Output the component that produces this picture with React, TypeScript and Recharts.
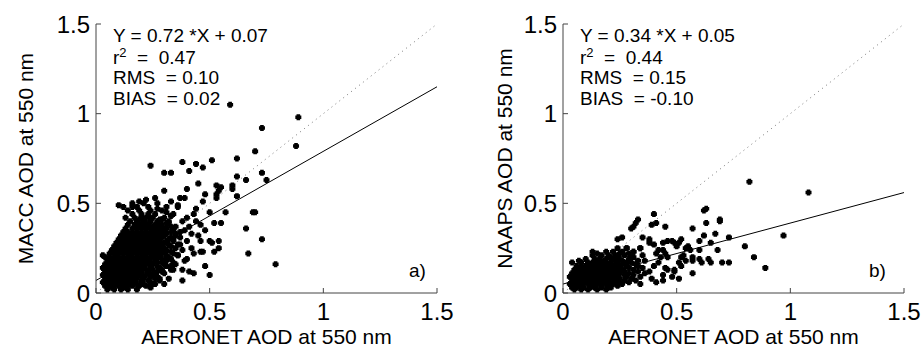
import React from "react";
import { ScatterChart, Scatter, XAxis, YAxis, ReferenceLine, Label } from "recharts";

const TICKS = [0, 0.5, 1, 1.5];
const X_TITLE = "AERONET AOD at 550 nm";

const MACC_FIT = { slope: 0.72, intercept: 0.07 };
const NAAPS_FIT = { slope: 0.34, intercept: 0.05 };

const MACC_STATS = { eq: "Y = 0.72 *X + 0.07", r2: "0.47", rms: "0.10", bias: "0.02" };
const NAAPS_STATS = { eq: "Y = 0.34 *X + 0.05", r2: "0.44", rms: "0.15", bias: "-0.10" };

// MACC vs AERONET (panel a) - dense core first, then the scattered points
const maccCore: [number, number][] = [
  [0.05,0.02],[0.08,0.02],[0.11,0.02],[0.14,0.02],[0.18,0.02],
  [0.04,0.04],[0.06,0.04],[0.08,0.04],[0.10,0.04],[0.12,0.04],[0.14,0.04],[0.16,0.04],[0.19,0.04],[0.22,0.04],
  [0.03,0.06],[0.05,0.06],[0.07,0.06],[0.09,0.06],[0.11,0.06],[0.13,0.06],[0.15,0.06],[0.17,0.06],[0.20,0.06],[0.24,0.06],
  [0.04,0.08],[0.06,0.08],[0.08,0.08],[0.10,0.08],[0.12,0.08],[0.14,0.08],[0.16,0.08],[0.18,0.08],[0.21,0.08],[0.26,0.08],
  [0.03,0.10],[0.05,0.10],[0.07,0.10],[0.09,0.10],[0.11,0.10],[0.13,0.10],[0.15,0.10],[0.17,0.10],[0.19,0.10],[0.22,0.10],[0.25,0.10],
  [0.04,0.12],[0.06,0.12],[0.08,0.12],[0.10,0.12],[0.12,0.12],[0.14,0.12],[0.16,0.12],[0.18,0.12],[0.20,0.12],[0.23,0.12],[0.27,0.12],
  [0.03,0.14],[0.05,0.14],[0.07,0.14],[0.09,0.14],[0.11,0.14],[0.13,0.14],[0.15,0.14],[0.17,0.14],[0.19,0.14],[0.21,0.14],[0.24,0.14],[0.28,0.14],
  [0.04,0.16],[0.06,0.16],[0.08,0.16],[0.10,0.16],[0.12,0.16],[0.14,0.16],[0.16,0.16],[0.18,0.16],[0.20,0.16],[0.22,0.16],[0.25,0.16],[0.30,0.16],
  [0.05,0.18],[0.07,0.18],[0.09,0.18],[0.11,0.18],[0.13,0.18],[0.15,0.18],[0.17,0.18],[0.19,0.18],[0.21,0.18],[0.23,0.18],[0.26,0.18],[0.31,0.18],
  [0.04,0.20],[0.06,0.20],[0.08,0.20],[0.10,0.20],[0.12,0.20],[0.14,0.20],[0.16,0.20],[0.18,0.20],[0.20,0.20],[0.22,0.20],[0.24,0.20],[0.27,0.20],[0.32,0.20],
  [0.06,0.22],[0.08,0.22],[0.10,0.22],[0.12,0.22],[0.14,0.22],[0.16,0.22],[0.18,0.22],[0.20,0.22],[0.22,0.22],[0.24,0.22],[0.26,0.22],[0.29,0.22],[0.34,0.22],
  [0.07,0.24],[0.09,0.24],[0.11,0.24],[0.13,0.24],[0.15,0.24],[0.17,0.24],[0.19,0.24],[0.21,0.24],[0.23,0.24],[0.25,0.24],[0.28,0.24],[0.31,0.24],
  [0.08,0.26],[0.10,0.26],[0.12,0.26],[0.14,0.26],[0.16,0.26],[0.18,0.26],[0.20,0.26],[0.22,0.26],[0.24,0.26],[0.26,0.26],[0.29,0.26],[0.33,0.26],
  [0.09,0.28],[0.11,0.28],[0.13,0.28],[0.15,0.28],[0.17,0.28],[0.19,0.28],[0.21,0.28],[0.23,0.28],[0.25,0.28],[0.27,0.28],[0.30,0.28],
  [0.10,0.30],[0.12,0.30],[0.14,0.30],[0.16,0.30],[0.18,0.30],[0.20,0.30],[0.22,0.30],[0.24,0.30],[0.26,0.30],[0.28,0.30],[0.32,0.30],
  [0.11,0.32],[0.13,0.32],[0.15,0.32],[0.17,0.32],[0.19,0.32],[0.21,0.32],[0.23,0.32],[0.25,0.32],[0.27,0.32],[0.30,0.32],[0.35,0.32],
  [0.12,0.34],[0.14,0.34],[0.16,0.34],[0.18,0.34],[0.20,0.34],[0.22,0.34],[0.24,0.34],[0.26,0.34],[0.29,0.34],[0.33,0.34],
  [0.13,0.36],[0.16,0.36],[0.18,0.36],[0.20,0.36],[0.22,0.36],[0.24,0.36],[0.27,0.36],[0.31,0.36],
  [0.14,0.38],[0.17,0.38],[0.19,0.38],[0.21,0.38],[0.23,0.38],[0.26,0.38],[0.29,0.38],
  [0.15,0.40],[0.18,0.40],[0.21,0.40],[0.24,0.40],[0.27,0.40],[0.32,0.40],
  [0.13,0.42],[0.17,0.42],[0.22,0.42],[0.25,0.42],[0.30,0.42],
  [0.16,0.44],[0.20,0.44],[0.26,0.44],[0.34,0.44],
  [0.14,0.46],[0.19,0.46],[0.24,0.46],[0.29,0.46],
  [0.12,0.48],[0.18,0.48],[0.23,0.48],[0.31,0.48],
  [0.16,0.50],[0.21,0.50],[0.27,0.50],
  // extra fill of the densest part
  [0.07,0.03],[0.13,0.03],[0.09,0.07],[0.15,0.07],[0.06,0.09],[0.12,0.09],[0.18,0.09],[0.08,0.11],
  [0.14,0.11],[0.20,0.11],[0.05,0.13],[0.11,0.13],[0.17,0.13],[0.09,0.15],[0.15,0.15],[0.21,0.15],
  [0.07,0.17],[0.13,0.17],[0.19,0.17],[0.11,0.19],[0.17,0.19],[0.23,0.19],[0.09,0.21],[0.15,0.21],
  [0.21,0.21],[0.13,0.23],[0.19,0.23],[0.25,0.23],[0.11,0.25],[0.17,0.25],[0.23,0.25],[0.15,0.27],
  [0.21,0.27],[0.27,0.27],[0.19,0.29],[0.25,0.29],[0.17,0.31],[0.23,0.31],[0.21,0.33],[0.28,0.33],
  // right flank of the cloud
  [0.18,0.05],[0.21,0.05],[0.25,0.05],[0.20,0.07],[0.23,0.07],[0.28,0.07],[0.21,0.09],[0.24,0.09],
  [0.27,0.09],[0.23,0.11],[0.26,0.11],[0.30,0.11],[0.22,0.13],[0.25,0.13],[0.29,0.13],[0.33,0.13],
  [0.24,0.15],[0.27,0.15],[0.31,0.15],[0.24,0.17],[0.27,0.17],[0.29,0.17],[0.34,0.17],[0.26,0.19],
  [0.29,0.19],[0.33,0.19],[0.25,0.21],[0.28,0.21],[0.31,0.21],[0.36,0.21],[0.27,0.23],[0.30,0.23],
  [0.33,0.23],[0.27,0.25],[0.30,0.25],[0.35,0.25],[0.29,0.27],[0.32,0.27],[0.36,0.27],[0.28,0.29],
  [0.31,0.29],[0.34,0.29],[0.29,0.31],[0.33,0.31],[0.37,0.31],[0.25,0.33],[0.31,0.33],[0.35,0.33],
  [0.26,0.35],[0.29,0.35],[0.34,0.35],[0.25,0.37],[0.28,0.37],[0.33,0.37],[0.22,0.39],[0.27,0.39],
  [0.31,0.39],[0.19,0.41],[0.24,0.41],[0.28,0.41],
];

const maccSpread: [number, number][] = [
  [0.03,0.21],[0.10,0.49],[0.16,0.48],[0.19,0.51],[0.22,0.52],[0.26,0.53],[0.24,0.71],[0.30,0.67],
  [0.33,0.67],[0.38,0.73],[0.41,0.68],[0.44,0.72],[0.47,0.70],[0.51,0.74],[0.59,1.05],[0.89,0.98],
  [0.88,0.82],[0.73,0.92],[0.70,0.79],[0.62,0.75],[0.73,0.67],[0.75,0.63],[0.62,0.65],[0.66,0.63],
  [0.53,0.60],[0.55,0.59],[0.54,0.57],[0.53,0.55],[0.53,0.53],[0.60,0.60],[0.60,0.58],[0.62,0.54],
  [0.48,0.55],[0.47,0.51],[0.45,0.61],[0.40,0.58],[0.30,0.57],[0.33,0.51],[0.37,0.53],[0.39,0.53],
  [0.36,0.49],[0.36,0.48],[0.69,0.45],[0.70,0.45],[0.57,0.45],[0.52,0.39],[0.55,0.39],[0.46,0.38],
  [0.48,0.35],[0.66,0.36],[0.73,0.30],[0.67,0.22],[0.79,0.16],[0.50,0.29],[0.51,0.28],[0.54,0.29],
  [0.54,0.25],[0.52,0.23],[0.46,0.29],[0.46,0.23],[0.47,0.23],[0.48,0.15],[0.50,0.10],[0.38,0.13],
  [0.41,0.12],[0.43,0.11],[0.38,0.07],[0.28,0.08],[0.32,0.08],[0.42,0.25],[0.43,0.22],[0.42,0.33],
  [0.45,0.32],[0.40,0.29],[0.37,0.27],[0.38,0.24],[0.35,0.16],[0.39,0.18],[0.40,0.19],[0.33,0.15],
  [0.34,0.13],[0.35,0.37],[0.38,0.40],[0.40,0.42],[0.43,0.44],[0.41,0.37],[0.37,0.34],[0.31,0.45],
  [0.29,0.41],[0.33,0.43],[0.44,0.47],[0.50,0.45],[0.36,0.21],[0.31,0.20],[0.29,0.12],[0.26,0.05],
  [0.30,0.05],[0.24,0.03],[0.34,0.30],[0.30,0.36],[0.32,0.39],[0.27,0.47],[0.23,0.44],[0.20,0.42],
  [0.39,0.35],[0.44,0.40],
];

// NAAPS vs AERONET (panel b)
const naapsCore: [number, number][] = [
  [0.05,0.02],[0.08,0.02],[0.11,0.02],[0.15,0.02],[0.19,0.02],
  [0.04,0.03],[0.06,0.03],[0.09,0.03],[0.12,0.03],[0.14,0.03],[0.17,0.03],[0.21,0.03],
  [0.03,0.05],[0.05,0.05],[0.07,0.05],[0.09,0.05],[0.11,0.05],[0.13,0.05],[0.15,0.05],[0.17,0.05],[0.19,0.05],[0.22,0.05],[0.26,0.05],
  [0.04,0.07],[0.06,0.07],[0.08,0.07],[0.10,0.07],[0.12,0.07],[0.14,0.07],[0.16,0.07],[0.18,0.07],[0.20,0.07],[0.23,0.07],[0.27,0.07],[0.32,0.07],
  [0.03,0.09],[0.05,0.09],[0.07,0.09],[0.09,0.09],[0.11,0.09],[0.13,0.09],[0.15,0.09],[0.17,0.09],[0.19,0.09],[0.21,0.09],[0.24,0.09],[0.28,0.09],[0.34,0.09],
  [0.04,0.11],[0.06,0.11],[0.08,0.11],[0.10,0.11],[0.12,0.11],[0.14,0.11],[0.16,0.11],[0.18,0.11],[0.20,0.11],[0.22,0.11],[0.25,0.11],[0.29,0.11],[0.36,0.11],
  [0.05,0.13],[0.07,0.13],[0.09,0.13],[0.11,0.13],[0.13,0.13],[0.15,0.13],[0.17,0.13],[0.19,0.13],[0.21,0.13],[0.23,0.13],[0.26,0.13],[0.31,0.13],
  [0.06,0.15],[0.08,0.15],[0.10,0.15],[0.12,0.15],[0.14,0.15],[0.16,0.15],[0.18,0.15],[0.20,0.15],[0.22,0.15],[0.25,0.15],[0.28,0.15],[0.33,0.15],
  [0.04,0.17],[0.08,0.17],[0.11,0.17],[0.13,0.17],[0.15,0.17],[0.17,0.17],[0.19,0.17],[0.21,0.17],[0.24,0.17],[0.27,0.17],[0.30,0.17],
  [0.10,0.19],[0.14,0.19],[0.16,0.19],[0.19,0.19],[0.22,0.19],[0.25,0.19],[0.29,0.19],
  [0.13,0.21],[0.17,0.21],[0.20,0.21],[0.23,0.21],[0.27,0.21],
  [0.13,0.23],[0.19,0.23],[0.22,0.23],[0.26,0.23],[0.31,0.23],
  [0.24,0.25],[0.28,0.25],[0.34,0.25],
  // extra fill of the densest part
  [0.07,0.04],[0.13,0.04],[0.10,0.06],[0.16,0.06],[0.07,0.08],[0.13,0.08],[0.19,0.08],[0.10,0.10],
  [0.16,0.10],[0.22,0.10],[0.08,0.12],[0.14,0.12],[0.20,0.12],[0.11,0.14],[0.17,0.14],[0.23,0.14],
  [0.14,0.16],[0.20,0.16],[0.26,0.16],[0.18,0.18],[0.23,0.18],
  // right flank of the cloud
  [0.17,0.04],[0.20,0.04],[0.24,0.04],[0.19,0.06],[0.22,0.06],[0.25,0.06],[0.29,0.06],[0.22,0.08],
  [0.25,0.08],[0.30,0.08],[0.24,0.10],[0.27,0.10],[0.31,0.10],[0.24,0.12],[0.27,0.12],[0.33,0.12],
  [0.25,0.14],[0.29,0.14],[0.35,0.14],[0.23,0.16],[0.28,0.16],[0.32,0.16],[0.26,0.18],[0.29,0.18],
  [0.21,0.20],[0.24,0.20],[0.31,0.20],[0.15,0.22],[0.25,0.22],[0.29,0.22],
];

const naapsSpread: [number, number][] = [
  [0.07,0.18],[0.24,0.30],[0.26,0.31],[0.31,0.37],[0.32,0.39],[0.33,0.41],[0.30,0.36],[0.40,0.44],
  [0.41,0.39],[0.39,0.38],[0.45,0.37],[0.35,0.31],[0.38,0.30],[0.38,0.28],[0.28,0.25],[0.31,0.23],
  [0.34,0.25],[0.40,0.27],[0.42,0.24],[0.44,0.28],[0.48,0.29],[0.51,0.28],[0.52,0.30],[0.82,0.62],
  [1.08,0.56],[0.97,0.32],[0.80,0.26],[0.84,0.20],[0.89,0.14],[0.63,0.47],[0.62,0.46],[0.63,0.39],
  [0.69,0.41],[0.69,0.40],[0.57,0.36],[0.67,0.33],[0.73,0.31],[0.62,0.32],[0.60,0.29],[0.65,0.28],
  [0.68,0.24],[0.60,0.24],[0.55,0.26],[0.54,0.25],[0.56,0.24],[0.49,0.28],[0.46,0.29],[0.50,0.26],
  [0.57,0.20],[0.57,0.18],[0.60,0.19],[0.61,0.17],[0.64,0.19],[0.65,0.17],[0.70,0.17],[0.73,0.17],
  [0.52,0.20],[0.53,0.21],[0.54,0.18],[0.51,0.17],[0.52,0.15],[0.49,0.13],[0.49,0.12],[0.57,0.11],
  [0.51,0.08],[0.48,0.09],[0.44,0.10],[0.44,0.07],[0.45,0.14],[0.46,0.13],[0.43,0.20],[0.45,0.22],
  [0.46,0.20],[0.44,0.24],[0.41,0.22],[0.34,0.05],[0.40,0.15],[0.42,0.17],[0.38,0.12],[0.36,0.18],
  [0.39,0.08],[0.35,0.21],[0.41,0.06],[0.30,0.20],[0.33,0.18],
];

const toRows = (pts: [number, number][]) => pts.map(([x, y]) => ({ x, y }));

// MATLAB-like '.' marker: small plus-shaped blob, about 6px across
const Mark = (p: any) => {
  const { cx, cy } = p;
  if (cx == null || cy == null) return null;
  return (
    <path
      d={`M${cx - 1.8},${cy - 3}h3.6v1.2h1.2v3.6h-1.2v1.2h-3.6v-1.2h-1.2v-3.6h1.2z`}
      fill="#000"
    />
  );
};

const AXIS = "#444";
const FONT = "'Liberation Sans', Arial, sans-serif";
const NB = "\u00a0";

function Panel(props: {
  width: number;
  marginLeft: number;
  marginRight: number;
  yAxisWidth: number;
  labelOffset: number;
  yTitle: string;
  points: [number, number][];
  fit: { slope: number; intercept: number };
  stats: { eq: string; r2: string; rms: string; bias: string };
  textX: number;
  tag: string;
}) {
  const { width, marginLeft, marginRight, yAxisWidth, labelOffset, yTitle, points, fit, stats, textX, tag } = props;
  const data = toRows(points);
  return (
    <div style={{ position: "relative", width, height: 347 }}>
      <ScatterChart
        width={width}
        height={347}
        margin={{ top: 24, right: marginRight, bottom: 0, left: marginLeft }}
      >
        <XAxis
          type="number"
          dataKey="x"
          domain={[0, 1.5]}
          ticks={TICKS}
          height={54}
          stroke={AXIS}
          tickSize={-5}
          tickMargin={15}
          tick={{ fill: "#000", fontSize: 24 }}
          allowDataOverflow
        >
          <Label
            value={X_TITLE}
            position="insideBottom"
            offset={3}
            style={{ fill: "#000", fontSize: 21 }}
          />
        </XAxis>
        <YAxis
          type="number"
          dataKey="y"
          domain={[0, 1.5]}
          ticks={TICKS}
          width={yAxisWidth}
          stroke={AXIS}
          tickSize={-5}
          tickMargin={11}
          tick={{ fill: "#000", fontSize: 24 }}
          allowDataOverflow
        >
          <Label
            value={yTitle}
            angle={-90}
            position="insideLeft"
            offset={labelOffset}
            textAnchor="middle"
            style={{ fill: "#000", fontSize: 21, textAnchor: "middle" }}
          />
        </YAxis>
        <XAxis
          xAxisId="top"
          orientation="top"
          type="number"
          domain={[0, 1.5]}
          ticks={TICKS}
          height={0}
          stroke={AXIS}
          tickSize={-5}
          tick={false}
          allowDataOverflow
        />
        <YAxis
          yAxisId="right"
          orientation="right"
          type="number"
          domain={[0, 1.5]}
          ticks={TICKS}
          width={0}
          stroke={AXIS}
          tickSize={-5}
          tick={false}
          allowDataOverflow
        />
        <ReferenceLine
          segment={[{ x: 0, y: 0 }, { x: 1.5, y: 1.5 }]}
          stroke="#777"
          strokeDasharray="1 4"
        />
        <ReferenceLine
          segment={[
            { x: 0, y: fit.intercept },
            { x: 1.5, y: fit.intercept + fit.slope * 1.5 },
          ]}
          stroke="#000"
          strokeWidth={1}
        />
        <Scatter data={data} shape={<Mark />} isAnimationActive={false} />
      </ScatterChart>
      <svg
        width={width}
        height={347}
        style={{ position: "absolute", left: 0, top: 0, pointerEvents: "none" }}
      >
        <g fontSize={19} fill="#000">
          <text x={textX} y={42}>{stats.eq}</text>
          <text x={textX} y={64}>
            r<tspan fontSize={13} dy={-7}>2</tspan>
            <tspan dy={7}>{NB + NB + "=" + NB + NB + stats.r2}</tspan>
          </text>
          <text x={textX} y={84}>{"RMS" + NB + NB + "= " + stats.rms}</text>
          <text x={textX} y={105}>{"BIAS" + NB + NB + "= " + stats.bias}</text>
          <text x={409} y={277}>{tag}</text>
        </g>
      </svg>
    </div>
  );
}

export default function App() {
  return (
    <div
      style={{
        position: "absolute",
        left: 0,
        top: 0,
        width: 921,
        height: 347,
        display: "flex",
        background: "#fff",
        fontFamily: FONT,
      }}
    >
      <Panel
        width={460}
        marginLeft={6}
        marginRight={23}
        yAxisWidth={90}
        labelOffset={20}
        yTitle="MACC AOD at 550 nm"
        points={[...maccCore, ...maccSpread]}
        fit={MACC_FIT}
        stats={MACC_STATS}
        textX={113}
        tag="a)"
      />
      <Panel
        width={461}
        marginLeft={6}
        marginRight={17}
        yAxisWidth={97}
        labelOffset={39}
        yTitle="NAAPS AOD at 550 nm"
        points={[...naapsCore, ...naapsSpread]}
        fit={NAAPS_FIT}
        stats={NAAPS_STATS}
        textX={120}
        tag="b)"
      />
    </div>
  );
}
